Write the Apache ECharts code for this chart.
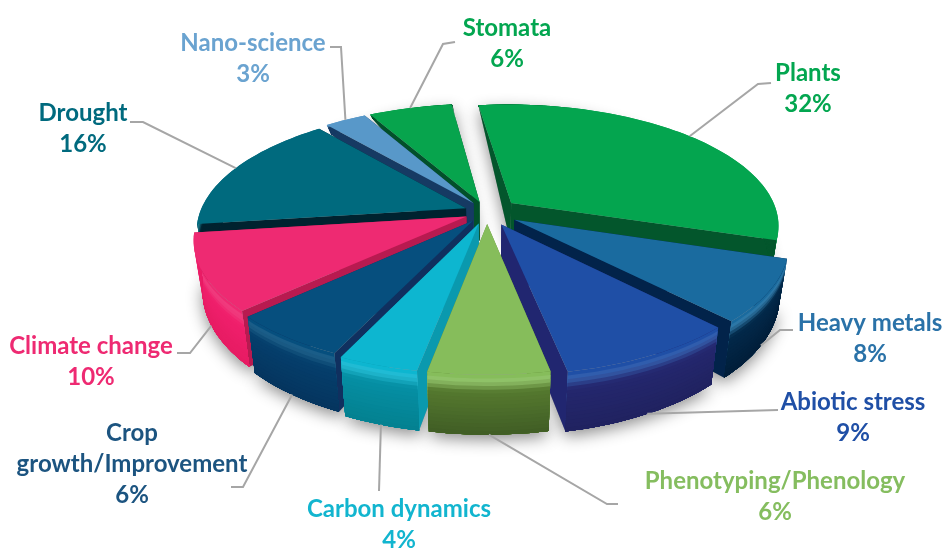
<!DOCTYPE html>
<html>
<head>
<meta charset="utf-8">
<style>html,body{margin:0;padding:0;background:#fff}#chart{width:944px;height:548px}</style>
<script src="https://cdn.jsdelivr.net/npm/echarts@6/dist/echarts.min.js"></script>
</head>
<body>
<div id="chart"></div>
<script>
// Research topics and their share of the total, in percent
const categories = ['Plants', 'Heavy metals', 'Abiotic stress', 'Phenotyping/Phenology', 'Carbon dynamics',
  'Crop\ngrowth/Improvement', 'Climate change', 'Drought', 'Nano-science', 'Stomata'];
const shares = [32, 8, 9, 6, 4, 6, 10, 16, 3, 6];

// Slice colours: top face, cut face, outer wall (upper and lower end), label
const topColors = ['#04a54f', '#1a6b9f', '#1f4fa6', '#86bd5b', '#0db6d0', '#064f7e', '#ee2a72', '#006a7e', '#5898c9', '#07a44d'];
const cutColors = ['#03562c', '#02234a', '#212670', '#5f8a35', '#0a99ae', '#10305f', '#b81a50', '#00222f', '#163a63', '#02502a'];
const wallTop = ['#03562c', '#02294a', '#24276e', '#55792f', '#058fa4', '#053f6c', '#f01f6c', '#00222f', '#163a63', '#02502a'];
const wallLow = ['#03562c', '#011d38', '#20225f', '#3f5c24', '#04808f', '#05345e', '#e61b62', '#00222f', '#163a63', '#02502a'];
const labelColors = ['#03a650', '#2a72a8', '#1f4fa6', '#85bd5f', '#12b5cf', '#1c5480', '#ee2a72', '#006a7e', '#6aa3d0', '#03a650'];

// How far each slice is pulled out of the disc, as a fraction of the radius
const pullOut = [0.12, 0.12, 0.115, 0.1, 0.1, 0.09, 0.085, 0.085, 0.09, 0.09];

// Page position of each label centre and the elbow points of its leader line
const labelAt = [[808, 89], [870, 339], [853, 418], [775, 497], [399, 525], [132, 464], [91, 362], [83, 129], [253, 59], [507, 44]];
const elbows = [[[758, 84], [771, 83]], [[780, 330], [793, 330]], [[778, 410]], [[607, 504], [618, 504]], [[379, 491]],
  [[243, 487], [231, 487]], [[190, 353], [177, 353]], [[143, 122], [130, 122]], [[341, 47], [330, 47]], [[443, 44], [455, 42]]];

// Projection of the tilted disc onto the page
const cx = 487, cy = 212, R = 266, tiltA = 119, tiltB = 0.178;
const startDeg = -7.5;

function project(u, v) {
  const d = 1 - tiltB * v;
  return [cx + R * u / d, cy + tiltA * v / d];
}
// Apparent thickness of the disc: nothing at the far rim, deepest at the near rim
function depthAt(v) {
  return v < 0.2 ? Math.max(0, (v + 1.1) / 1.3) * 50 : 50 + (v - 0.2) * 11;
}
// Point on the top face of a slice: ang in radians clockwise from the back, r from 0 to 1
function topPoint(s, ang, r) {
  const e = pullOut[s.i];
  const u = r * Math.sin(ang) + e * Math.sin(s.mid);
  const v = -r * Math.cos(ang) - e * Math.cos(s.mid);
  return project(u, v);
}
// The same point dropped onto the underside of the disc
function lowPoint(s, ang, r, t) {
  const v = -r * Math.cos(ang) - pullOut[s.i] * Math.cos(s.mid);
  const p = topPoint(s, ang, r);
  return [cx + (p[0] - cx) * (1 - 0.03 * t), p[1] + depthAt(v) * t];
}
function arc(s, fn) {
  const pts = [], n = Math.max(6, Math.ceil((s.end - s.start) / 0.03));
  for (let i = 0; i <= n; i++) pts.push(fn(s.start + (s.end - s.start) * i / n));
  return pts;
}
function mix(a, b, t) {
  const ch = (c, i) => parseInt(c.substr(1 + i * 2, 2), 16);
  const out = [0, 1, 2].map(i => Math.round(ch(a, i) + (ch(b, i) - ch(a, i)) * t));
  return 'rgb(' + out.join(',') + ')';
}
function hex(c) {
  const m = c.match(/\d+/g).map(Number);
  return '#' + m.map(x => x.toString(16).padStart(2, '0')).join('');
}
function wallColor(i, t) {
  const glow = hex(mix(topColors[i], '#ffffff', 0.1));
  if (t < 0.08) return mix(topColors[i], glow, t / 0.08);
  if (t < 0.26) return mix(glow, wallTop[i], (t - 0.08) / 0.18);
  return mix(wallTop[i], wallLow[i], (t - 0.26) / 0.74);
}

// Slice angles follow from the shares
const total = shares.reduce((a, b) => a + b, 0);
let running = startDeg * Math.PI / 180;
const slices = shares.map((value, i) => {
  const start = running;
  running += value / total * 2 * Math.PI;
  return { i, start, end: running, mid: (start + running) / 2 };
});
// Painter's order: slices at the back of the disc are drawn first
const drawOrder = slices.slice().sort((a, b) => Math.cos(b.mid) - Math.cos(a.mid)).map(s => s.i);

function renderShadow(params) {
  const s = slices[drawOrder[params.dataIndex]];
  const pts = [lowPoint(s, s.start, 0, 1)].concat(arc(s, a => lowPoint(s, a, 1, 1)));
  return {
    type: 'polygon', silent: true, shape: { points: pts },
    style: { fill: '#999', shadowBlur: 16, shadowColor: 'rgba(0,0,0,0.45)', shadowOffsetY: 5 }
  };
}

function renderSlice(params) {
  const s = slices[drawOrder[params.dataIndex]], i = s.i, children = [];
  const cut = ang => ({
    type: 'polygon', shape: { points: [topPoint(s, ang, 0), topPoint(s, ang, 1), lowPoint(s, ang, 1, 1), lowPoint(s, ang, 0, 1)] },
    style: { fill: cutColors[i] }
  });
  children.push(cut(s.start), cut(s.end));
  // Outer wall, layered downward so the bevel at its rim shades off smoothly
  const bottom = arc(s, a => lowPoint(s, a, 1, 1)).reverse();
  const layers = 16;
  for (let k = 0; k < layers; k++) {
    const t = k / layers;
    children.push({
      type: 'polygon', shape: { points: arc(s, a => lowPoint(s, a, 1, t)).concat(bottom) },
      style: { fill: wallColor(i, t) }
    });
  }
  children.push({
    type: 'polygon', shape: { points: [topPoint(s, s.start, 0)].concat(arc(s, a => topPoint(s, a, 1))) },
    style: { fill: topColors[i] }
  });
  return { type: 'group', silent: true, children };
}

function renderLabel(params) {
  const i = params.dataIndex, s = slices[i];
  const front = Math.cos(s.mid) < 0;
  const anchor = front ? lowPoint(s, s.mid, 1, 1) : topPoint(s, s.mid, 1);
  return {
    type: 'group', silent: true,
    children: [{
      type: 'polyline', shape: { points: [anchor].concat(elbows[i]) },
      style: { stroke: '#a6a6a6', lineWidth: 2, fill: null }
    }, {
      type: 'text',
      style: {
        x: labelAt[i][0], y: labelAt[i][1], align: 'center', verticalAlign: 'middle',
        text: categories[i] + '\n' + shares[i] + '%',
        font: 'bold 24px Lato', lineHeight: 31, fill: labelColors[i]
      }
    }]
  };
}

const chart = echarts.init(document.getElementById('chart'), null, { renderer: 'canvas' });
chart.setOption({
  backgroundColor: '#ffffff',
  animation: false,
  series: [
    { type: 'custom', coordinateSystem: 'none', z: 1, data: drawOrder.map(i => [shares[i]]), renderItem: renderShadow },
    { type: 'custom', coordinateSystem: 'none', z: 2, data: drawOrder.map(i => [shares[i]]), renderItem: renderSlice },
    { type: 'custom', coordinateSystem: 'none', z: 3, data: shares.map(v => [v]), renderItem: renderLabel }
  ]
});
</script>
</body>
</html>
